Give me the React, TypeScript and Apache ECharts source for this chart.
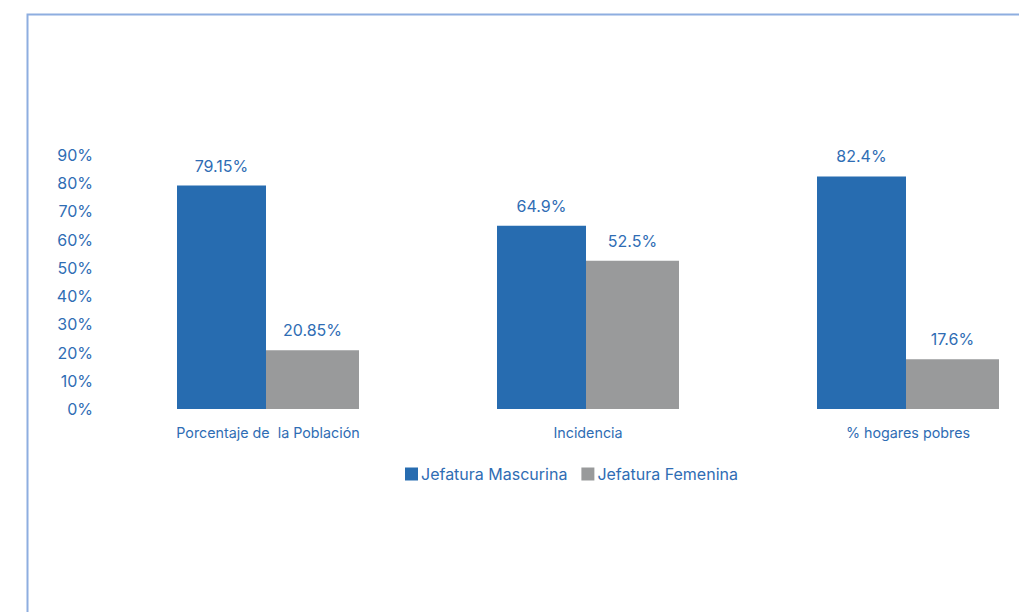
import React, { useEffect, useRef } from "react";
import * as echarts from "echarts";

const categories = ["Porcentaje de  la Población", "Incidencia", "% hogares pobres"];
const masculina = [79.15, 64.9, 82.4];
const femenina = [20.85, 52.5, 17.6];
const seriesNames = ["Jefatura Mascurina", "Jefatura Femenina"];

const BLUE = "#276cb0";
const GRAY = "#999a9b";
const TEXT = "#2f6db4";

export default function App() {
  const ref = useRef<HTMLDivElement>(null);
  useEffect(() => {
    const chart = echarts.init(ref.current!, null, { renderer: "svg" });
    const labelFmt = (p: any) => `${p.value}%`;
    chart.setOption({
      animation: false,
      backgroundColor: "#ffffff",
      textStyle: { fontFamily: "Inter" },
      graphic: [
        {
          type: "rect",
          shape: { x: 27.5, y: 14.5, width: 1100, height: 700 },
          style: { fill: "none", stroke: "#8eaee0", lineWidth: 2 },
          silent: true,
        },
      ],
      legend: {
        data: seriesNames,
        top: 461,
        left: 400,
        itemWidth: 13,
        itemHeight: 13,
        itemGap: 14,
        icon: "rect",
        textStyle: { color: TEXT, fontSize: 16, fontFamily: "Inter", padding: [0, 0, 0, -2] },
      },
      grid: { left: 108, right: 32, top: 155, bottom: 203, containLabel: false },
      xAxis: {
        type: "category",
        data: categories,
        axisLine: { show: false },
        axisTick: { show: false },
        axisLabel: { color: TEXT, fontSize: 14.3, margin: 16, fontFamily: "Inter" },
      },
      yAxis: {
        type: "value",
        min: 0,
        max: 90,
        interval: 10,
        splitLine: { show: false },
        axisLine: { show: false },
        axisTick: { show: false },
        axisLabel: {
          color: TEXT,
          fontSize: 16,
          margin: 15,
          fontFamily: "Inter",
          formatter: (v: number) => `${v}%`,
        },
      },
      series: [
        {
          name: seriesNames[0],
          type: "bar",
          data: masculina,
          barWidth: 89,
          barGap: "0%",
          itemStyle: { color: BLUE },
          label: { show: true, position: "top", distance: 12, color: TEXT, fontSize: 16, fontFamily: "Inter", formatter: labelFmt },
        },
        {
          name: seriesNames[1],
          type: "bar",
          data: femenina,
          barWidth: 93,
          itemStyle: { color: GRAY },
          label: { show: true, position: "top", distance: 12, color: TEXT, fontSize: 16, fontFamily: "Inter", formatter: labelFmt },
        },
      ],
    });
    return () => chart.dispose();
  }, []);
  return (
    <div style={{ position: "fixed", left: 0, top: 0, width: 1019, height: 612, overflow: "hidden" }}>
      <div ref={ref} style={{ width: 1100, height: 612 }} />
    </div>
  );
}
